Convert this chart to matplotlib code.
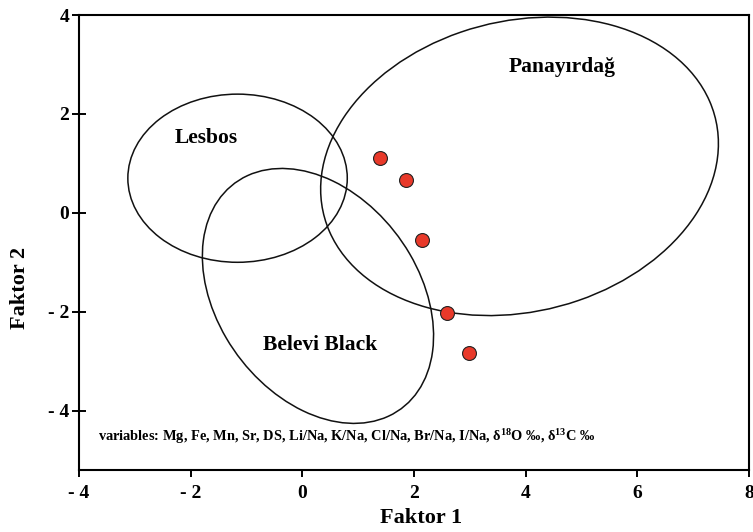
import numpy as np
import matplotlib
matplotlib.use("Agg")
import matplotlib.pyplot as plt
from matplotlib.patches import Ellipse

# ---------------------------
# Data
# ---------------------------
sample_x = [1.40, 1.85, 2.15, 2.59, 2.98]
sample_y = [1.10, 0.66, -0.54, -2.03, -2.84]

group_names = ["Lesbos", "Belevi Black", "Panayırdağ"]
group_cx = [-1.16, 0.28, 3.89]
group_cy = [0.70, -1.68, 0.94]
group_w = [3.93, 5.48, 7.30]
group_h = [3.40, 3.70, 5.82]
group_angle = [0.0, -62.6, 21.2]
label_x = [-1.72, 0.32, 4.66]
label_y = [1.51, -2.68, 2.95]

xticks = [-4, -2, 0, 2, 4, 6, 8]
xtick_labels = ["- 4", "- 2", "0", "2", "4", "6", "8"]
yticks = [-4, -2, 0, 2, 4]
ytick_labels = ["- 4", "- 2", "0", "2", "4"]

variables_text = (r"variables: Mg, Fe, Mn, Sr, DS, Li/Na, K/Na, Cl/Na, Br/Na, I/Na, "
                  r"δ$^{18}$O ‰, δ$^{13}$C ‰")

plt.rcParams['font.family'] = ['Liberation Serif', 'DejaVu Serif']
plt.rcParams['font.weight'] = 'bold'
plt.rcParams['mathtext.fontset'] = 'custom'
plt.rcParams['mathtext.rm'] = 'Liberation Serif:bold'
plt.rcParams['mathtext.it'] = 'Liberation Serif:bold'
plt.rcParams['mathtext.bf'] = 'Liberation Serif:bold'

fig = plt.figure(figsize=(7.53, 5.32), dpi=100)
ax = fig.add_axes([0.1049, 0.1165, 0.8898, 0.8553])

# ellipses of the reference groups
for cx, cy, w, h, ang in zip(group_cx, group_cy, group_w, group_h, group_angle):
    ax.add_patch(Ellipse((cx, cy), w, h, angle=ang, fill=False,
                         edgecolor='#111111', linewidth=1.1, zorder=2))

for name, lx, ly in zip(group_names, label_x, label_y):
    ax.text(lx, ly, name, fontsize=15.5, fontweight='bold', ha='center', va='center')

ax.scatter(sample_x, sample_y, s=100, color='#e8392a', edgecolors='#222222',
           linewidths=0.8, zorder=3)

ax.text(0.028, 0.0725, variables_text, transform=ax.transAxes, fontsize=10.4,
        fontweight='bold', ha='left', va='center')

ax.set_xlim(-4, 8)
ax.set_ylim(-5.2, 4)
ax.set_xticks(xticks)
ax.set_xticklabels(xtick_labels)
ax.set_yticks(yticks)
ax.set_yticklabels(ytick_labels)
ax.tick_params(axis='x', direction='out', length=5, width=1.4, labelsize=14, pad=6)
ax.tick_params(axis='y', direction='inout', length=10, width=1.4, labelsize=14, pad=2)
for sp in ax.spines.values():
    sp.set_linewidth(1.5)

ax.set_xlabel("Faktor 1", fontsize=16, fontweight='bold')
ax.set_ylabel("Faktor 2", fontsize=16, fontweight='bold')
ax.xaxis.set_label_coords(0.51, -0.084)
ax.yaxis.set_label_coords(-0.073, 0.40)

fig.savefig("out.png", dpi=100)
